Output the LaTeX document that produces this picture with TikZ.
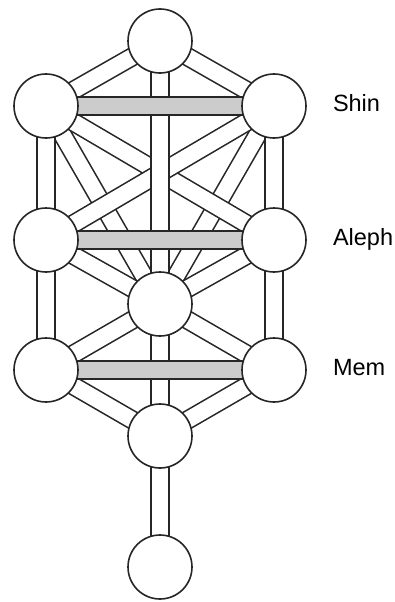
\documentclass[tikz,border=0pt]{standalone}
\usepackage{fontspec}
\setmainfont{Liberation Sans}
\usetikzlibrary{backgrounds}

\begin{document}
\begin{tikzpicture}[
    x=1pt, y=-1pt,
    sephira/.style = {circle, draw=black!85, fill=white,
                      line width=1.6pt,
                      minimum size=64pt, inner sep=0pt},
    channel/.style = {draw=black!85, line width=1.6pt,
                      double=white, double distance=16pt},
    mother/.style = {channel, double=gray!40},
    letter/.style = {font=\fontsize{23.5}{28}\selectfont,
                     inner sep=0pt, anchor=base west}
]
    \useasboundingbox (0,0) rectangle (395,602);

    \node[sephira] (KE) at (160,41) {};
    \node[sephira] (BI) at (46,106) {};
    \node[sephira] (CH) at (274,106) {};
    \node[sephira] (GE) at (46,240) {};
    \node[sephira] (CS) at (274,240) {};
    \node[sephira] (TI) at (160,304) {};
    \node[sephira] (HO) at (46,370) {};
    \node[sephira] (NE) at (274,370) {};
    \node[sephira] (YE) at (160,436) {};
    \node[sephira] (MA) at (160,567) {};

    \node[letter] (shin) at ([xshift=26pt, yshift=-5pt]CH.east) {Shin};
    \node[letter] (aleph) at ([xshift=26pt, yshift=-5pt]CS.east) {Aleph};
    \node[letter] (mem) at ([xshift=26pt, yshift=-5pt]NE.east) {Mem};

    \begin{scope}[on background layer]
        % steep paths into the middle first, the crossing ones lie over them
        \foreach \a/\b in {BI/TI, CH/TI}
            \draw[channel] (\a.center) -- (\b.center);
        \foreach \a/\b in {KE/BI, KE/CH, BI/GE, CH/CS, GE/HO, CS/NE,
                           GE/TI, CS/TI, TI/HO, TI/NE, HO/YE, NE/YE,
                           TI/YE, YE/MA}
            \draw[channel] (\a.center) -- (\b.center);
        \foreach \a/\b in {BI/CS, CH/GE}
            \draw[channel] (\a.center) -- (\b.center);
        \draw[channel] (KE.center) -- (TI.center);
        % the three mother letters
        \foreach \a/\b in {BI/CH, GE/CS, HO/NE}
            \draw[mother] (\a.center) -- (\b.center);
    \end{scope}

\end{tikzpicture}
\end{document}
